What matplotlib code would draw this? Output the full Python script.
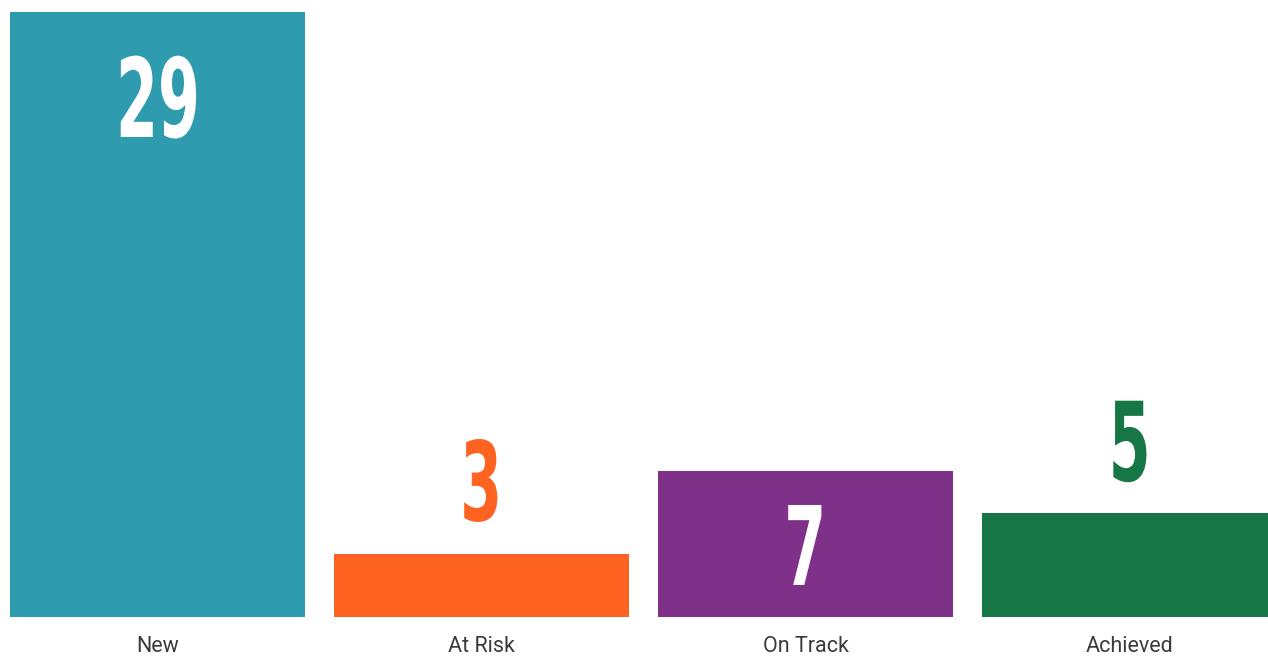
import matplotlib
matplotlib.use("Agg")
import matplotlib.pyplot as plt
from matplotlib.patheffects import AbstractPathEffect
from matplotlib.transforms import Affine2D

categories = ["New", "At Risk", "On Track", "Achieved"]
values = [29, 3, 7, 5]
colors = ["#2E9BAF", "#FF6322", "#7F318A", "#177645"]

# vertical offset (pixels) of each value label's baseline from the bar top
label_offsets_px = [-125, 34, -114, 32]


class HSqueeze(AbstractPathEffect):
    """Condense glyphs horizontally about their own centre."""
    def __init__(self, sx):
        super().__init__()
        self.sx = sx

    def draw_path(self, renderer, gc, tpath, affine, rgbFace=None):
        ext = tpath.get_extents()
        cx = (ext.x0 + ext.x1) / 2
        t = Affine2D().translate(-cx, 0).scale(self.sx, 1).translate(cx, 0) + affine
        renderer.draw_path(gc, tpath, t, rgbFace)


W, H = 1268, 657
fig = plt.figure(figsize=(W / 100, H / 100), dpi=100)
ax = fig.add_axes([0, 1 - 617 / H, 1, 617 / H])

x = list(range(len(categories)))
ax.bar(x, values, width=295 / 324, color=colors, linewidth=0)
ax.set_xlim(-157.5 / 324, (W - 157.5) / 324)
ax.set_ylim(0, 29 * 617 / 605)

for xi, v, c, off_px in zip(x, values, colors, label_offsets_px):
    inside = off_px < 0
    ax.annotate(str(v), (xi, v), xytext=(0, off_px * 0.72), textcoords="offset points",
                ha="center", va="baseline", fontsize=79, fontweight="bold",
                family="DejaVu Sans", color="white" if inside else c,
                path_effects=[HSqueeze(0.55)])

ax.set_xticks(x)
ax.set_xticklabels(categories, fontsize=15.5, family=["Roboto", "DejaVu Sans"], color="#3a3a3a")
ax.tick_params(axis="x", length=0, pad=13.5)
ax.set_yticks([])
for s in ax.spines.values():
    s.set_visible(False)

fig.savefig("out.png", dpi=100)
